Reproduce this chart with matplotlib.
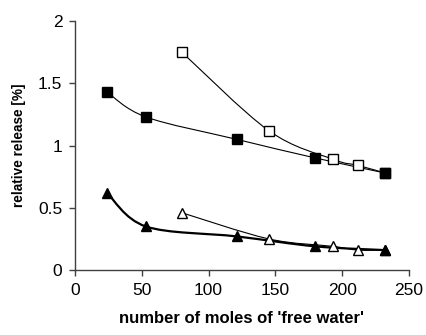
import matplotlib
matplotlib.use("Agg")
import matplotlib.pyplot as plt
from matplotlib.path import Path
from matplotlib.patches import PathPatch
import numpy as np

plt.rcParams['font.family'] = ['Liberation Sans', 'DejaVu Sans']

# Data
filled_sq_x = [24, 53, 121, 180, 232]
filled_sq_y = [1.43, 1.23, 1.05, 0.90, 0.78]
open_sq_x = [80, 145, 193, 212, 232]
open_sq_y = [1.75, 1.12, 0.89, 0.84, 0.78]
filled_tri_x = [24, 53, 121, 180, 232]
filled_tri_y = [0.62, 0.35, 0.27, 0.19, 0.16]
open_tri_x = [80, 145, 193, 212, 232]
open_tri_y = [0.46, 0.25, 0.19, 0.16, 0.16]

x_ticks = [0, 50, 100, 150, 200, 250]
y_ticks = [0, 0.5, 1, 1.5, 2]
y_tick_labels = ['0', '0.5', '1', '1.5', '2']


def smooth_path(xs, ys):
    pts = np.column_stack([xs, ys]).astype(float)
    n = len(pts)
    verts = [pts[0]]
    codes = [Path.MOVETO]
    for i in range(n - 1):
        p0 = pts[i - 1] if i > 0 else pts[i]
        p1 = pts[i]
        p2 = pts[i + 1]
        p3 = pts[i + 2] if i + 2 < n else pts[i + 1]
        c1 = p1 + (p2 - p0) / 6.0
        c2 = p2 - (p3 - p1) / 6.0
        verts += [c1, c2, p2]
        codes += [Path.CURVE4] * 3
    return Path(verts, codes)


fig = plt.figure(figsize=(4.27, 3.35), dpi=100)
ax = fig.add_axes([0.1756, 0.194, 0.7822, 0.743])

series = [
    (open_sq_x, open_sq_y, 's', 'white', 0.8),
    (open_tri_x, open_tri_y, '^', 'white', 0.8),
    (filled_sq_x, filled_sq_y, 's', 'black', 0.8),
    (filled_tri_x, filled_tri_y, '^', 'black', 1.6),
]
for z, (xs, ys, m, fc, lw) in enumerate(series):
    patch = PathPatch(smooth_path(xs, ys), facecolor='none', edgecolor='black',
                      lw=lw, zorder=2 + z)
    ax.add_patch(patch)
    ax.plot(xs, ys, linestyle='none', marker=m, markersize=7 if m == 's' else 7.5,
            markerfacecolor=fc, markeredgecolor='black', markeredgewidth=1.0,
            zorder=10 + z)

ax.set_xlim(0, 250)
ax.set_ylim(0, 2)
ax.set_xticks(x_ticks)
ax.set_xticklabels([str(t) for t in x_ticks])
ax.set_yticks(y_ticks)
ax.set_yticklabels(y_tick_labels)
for s in ['top', 'right']:
    ax.spines[s].set_visible(False)
for s in ['left', 'bottom']:
    ax.spines[s].set_color('#404040')
    ax.spines[s].set_linewidth(1.0)
ax.tick_params(direction='out', length=4, width=1.0, color='#404040',
               labelsize=12.5, pad=5)
ax.set_xlabel("number of moles of 'free water'", fontsize=12, fontweight='bold', labelpad=10)
ax.set_ylabel("relative release [%]", fontsize=9.8, fontweight='bold', labelpad=9)

fig.savefig('out.png', dpi=100)
